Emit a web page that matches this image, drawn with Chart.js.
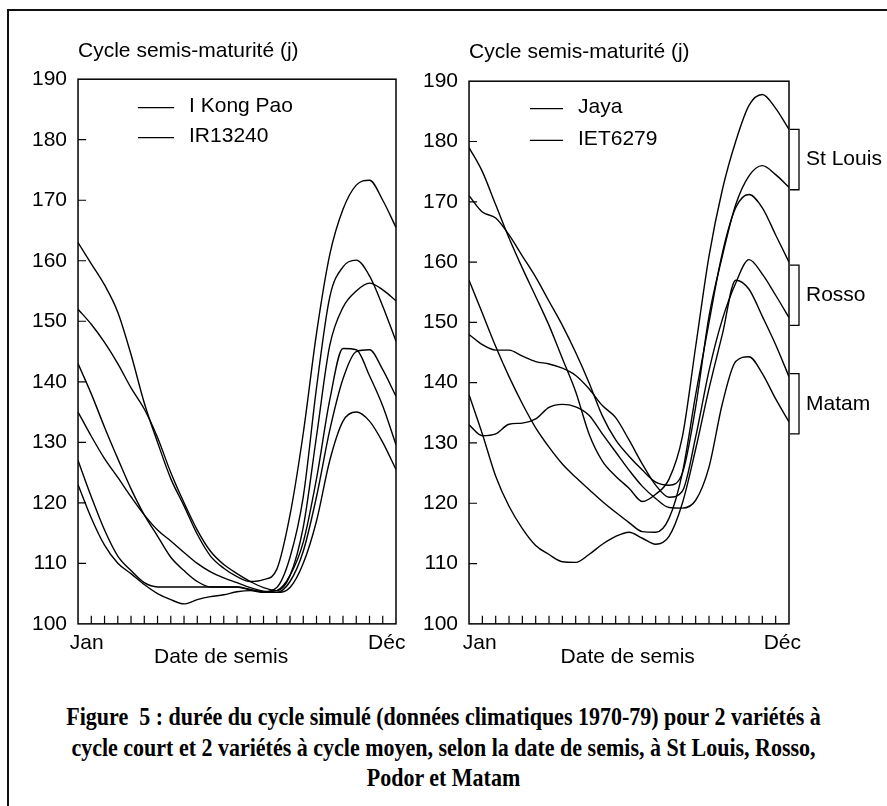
<!DOCTYPE html>
<html>
<head>
<meta charset="utf-8">
<script src="https://cdn.jsdelivr.net/npm/chart.js@4.4.0/dist/chart.umd.min.js"></script>
<style>
  html, body { margin: 0; padding: 0; background: #fff; overflow: hidden; }
  body { width: 887px; height: 806px; position: relative; }
  #frame { position: absolute; left: 7px; top: 9px; width: 900px; height: 820px;
           border-top: 2px solid #111; border-left: 2px solid #111; }
  .panel { position: absolute; top: 0; height: 680px; }
  #left { left: 0; width: 440px; }
  #right { left: 400px; width: 487px; }
  #caption { position: absolute; left: 0; width: 887px; top: 701px; text-align: center;
             font-family: 'Liberation Serif', 'Times New Roman', serif; font-weight: bold;
             font-size: 22px; line-height: 27.7px; color: #000;
             transform: scaleY(1.12); transform-origin: top center; }
</style>
</head>
<body>
<div id="frame"></div>
<div class="panel" id="left"><canvas id="chartLeft"></canvas></div>
<div class="panel" id="right"><canvas id="chartRight"></canvas></div>
<div id="caption">Figure&nbsp; 5 : durée du cycle simulé (données climatiques 1970-79) pour 2 variétés à<br>cycle court et 2 variétés à cycle moyen, selon la date de semis, à St Louis, Rosso,<br>Podor et Matam</div>
<script>
// sowing date, in half-month steps from early January (0) to late December (24)
const sowingStep = [0, 1, 2, 3, 4, 5, 6, 7, 8, 9, 10, 11, 12, 13, 14, 15, 16, 17, 18, 19, 20, 21, 22, 23, 24];

const leftVarieties = ['I Kong Pao', 'IR13240'];
const rightVarieties = ['Jaya', 'IET6279'];
const stations = ['St Louis', 'Rosso', 'Matam'];

// cycle length (days), short-cycle varieties
const ikpStLouis = [163, 159.5, 156, 151.5, 144.5, 136.5, 130, 124, 119.5, 114.8, 111.2, 109.2, 107.8, 107, 107.3, 109, 118, 131.5, 148, 161, 168.5, 172.5, 173.3, 170, 165.5];
const irStLouis  = [152, 149.5, 146.5, 143, 139, 135.5, 130.8, 125, 120, 115.5, 112, 109.8, 108.3, 107, 106, 105.5, 108, 116, 131, 146, 152.3, 155, 156.3, 155.2, 153.4];
const ikpRosso   = [143, 138, 132.5, 127.3, 122.3, 118, 114.5, 111, 108.8, 107, 106.1, 106.1, 106.1, 105.6, 105.3, 106, 111, 121, 139, 154, 159, 160.1, 157.5, 152.5, 146.7];
const irRosso    = [135, 131, 127.3, 124.2, 121, 118, 115.5, 113.7, 111.8, 110, 108.6, 107.6, 106.8, 106, 105.4, 105.2, 107, 112, 121, 132, 140.5, 145, 145.3, 142, 137.6];
const ikpMatam   = [127, 121, 115.5, 111.2, 108.8, 106.8, 106.1, 106.1, 106.1, 106.1, 106.1, 106.1, 106.1, 105.7, 105.3, 105.5, 108, 113.5, 124, 137, 145.5, 145.3, 141, 136, 129.6];
const irMatam    = [123, 117.5, 113, 110, 108.3, 106.5, 105, 104, 103.3, 104, 104.5, 104.8, 105.3, 105.5, 105.2, 105.2, 106, 110, 117, 127, 133.5, 135, 133.5, 130, 125.5];

// cycle length (days), medium-cycle varieties
const jayaStLouis = [179, 175, 169.5, 164, 159, 154.3, 149.5, 144, 138.5, 131.5, 127, 124.5, 122.5, 120.3, 121.5, 124, 131, 146, 161, 172, 180, 186, 187.8, 185.5, 182];
const ietStLouis  = [171, 168.3, 167.3, 164.5, 161, 157.5, 153.5, 149.5, 145, 140, 134.5, 130.5, 127.8, 125.5, 123.5, 123, 125, 136, 151, 161, 169.5, 174.3, 176, 174.5, 172.4];
const jayaRosso   = [157, 151.5, 146, 141, 136.5, 132.5, 129.3, 126.5, 124.3, 122.3, 120.3, 118.5, 116.8, 115.3, 115.2, 117.5, 125, 138, 150, 161.5, 169, 171.2, 169, 164.5, 160];
const ietRosso    = [148, 146.3, 145.4, 145.4, 144.4, 143.5, 143.1, 142.4, 141.2, 139, 136.2, 134.2, 130.5, 126.5, 123, 121, 122, 131, 142, 150.5, 156.5, 160.4, 158, 154.5, 150.8];
const jayaMatam   = [138, 131.5, 124.5, 119.5, 115.8, 113, 111.5, 110.3, 110.2, 111.5, 113.2, 114.5, 115.2, 114.2, 113.2, 114.5, 120, 129, 139, 148, 157, 155.5, 151, 146.3, 141];
const ietMatam    = [133, 131.2, 131.5, 133.1, 133.3, 134, 135.9, 136.4, 136, 134.6, 131.5, 128.5, 125.5, 122.8, 120.8, 119.3, 119.2, 120.5, 126, 136.5, 143.5, 144.3, 141.5, 137.3, 133.5];

// station brackets on the right panel (days)
const bracketHigh = [182, 159.5, 141.5];
const bracketLow  = [172, 149.5, 131.5];

const xTickText = ['Jan', ['', 'Date de semis'], 'Déc'];

Chart.defaults.font.family = "'Liberation Sans', Arial, sans-serif";
Chart.defaults.color = '#000';

const FONT = "21px 'Liberation Sans', Arial, sans-serif";

const frameTicks = {
    id: 'frameTicks',
    afterDatasetsDraw(chart) {
        const { ctx, chartArea: a, scales: { x, y } } = chart;
        ctx.save();
        ctx.strokeStyle = '#000';
        ctx.lineWidth = 1.5;
        ctx.strokeRect(a.left, a.top, a.right - a.left, a.bottom - a.top);
        ctx.lineWidth = 1.2;
        ctx.beginPath();
        y.ticks.forEach(t => {
            if (t.value <= y.min || t.value >= y.max) return;
            const py = y.getPixelForValue(t.value);
            ctx.moveTo(a.left, py);
            ctx.lineTo(a.left + 8, py);
        });
        for (let k = 1; k < 24; k++) {
            const px = x.getPixelForValue(k);
            ctx.moveTo(px, a.bottom);
            ctx.lineTo(px, a.bottom - 8);
        }
        ctx.stroke();
        ctx.restore();
    }
};

const insideLegend = {
    id: 'insideLegend',
    afterDraw(chart, args, opts) {
        const { ctx, chartArea: a } = chart;
        ctx.save();
        ctx.font = FONT;
        ctx.fillStyle = '#000';
        ctx.strokeStyle = '#000';
        ctx.lineWidth = 1.3;
        ctx.textBaseline = 'middle';
        opts.names.forEach((name, k) => {
            const yy = a.top + opts.top + k * opts.gap;
            ctx.beginPath();
            ctx.moveTo(a.left + opts.lineX, yy);
            ctx.lineTo(a.left + opts.lineX + opts.lineLen, yy);
            ctx.stroke();
            ctx.fillText(name, a.left + opts.textX, yy - 1);
        });
        ctx.restore();
    }
};

const stationBrackets = {
    id: 'stationBrackets',
    afterDraw(chart) {
        const { ctx, chartArea: a, scales: { y } } = chart;
        ctx.save();
        ctx.font = FONT;
        ctx.fillStyle = '#000';
        ctx.strokeStyle = '#000';
        ctx.lineWidth = 1.3;
        ctx.textBaseline = 'middle';
        stations.forEach((name, k) => {
            const y1 = y.getPixelForValue(bracketHigh[k]);
            const y2 = y.getPixelForValue(bracketLow[k]);
            ctx.beginPath();
            ctx.moveTo(a.right + 1, y1);
            ctx.lineTo(a.right + 10, y1);
            ctx.lineTo(a.right + 10, y2);
            ctx.lineTo(a.right + 1, y2);
            ctx.stroke();
            ctx.fillText(name, a.right + 17, (y1 + y2) / 2);
        });
        ctx.restore();
    }
};

const makeChart = (canvasId, series, names, cfg) => {
    const datasets = series.map((s, k) => ({
        label: names[k],
        data: sowingStep.map((x, j) => ({ x: x, y: s[j] })),
        borderColor: '#000',
        borderWidth: 1.4,
        pointRadius: 0,
        fill: false,
        cubicInterpolationMode: 'monotone'
    }));

    return new Chart(document.getElementById(canvasId), {
        type: 'line',
        data: { datasets },
        plugins: [frameTicks, insideLegend].concat(cfg.extra || []),
        options: {
            responsive: true,
            maintainAspectRatio: false,
            animation: false,
            layout: { autoPadding: false, padding: cfg.padding },
            scales: {
                x: {
                    type: 'linear',
                    min: 0,
                    max: 24,
                    grid: { display: false, drawTicks: false },
                    border: { display: false },
                    afterBuildTicks: (sc) => { sc.ticks = cfg.tickPos.map(v => ({ value: v })); },
                    ticks: {
                        autoSkip: false,
                        maxRotation: 0,
                        padding: 12,
                        font: { size: 21, lineHeight: 0.67 },
                        callback: (v, i) => xTickText[i]
                    }
                },
                y: {
                    min: 100,
                    max: 190,
                    grid: { display: false, drawTicks: false },
                    border: { display: false },
                    ticks: { stepSize: 10, padding: 11, font: { size: 21 } }
                }
            },
            plugins: {
                legend: { display: false },
                tooltip: { enabled: false },
                title: {
                    display: true,
                    text: 'Cycle semis-maturité (j)',
                    align: 'start',
                    fullSize: false,
                    font: { size: 21, weight: 'normal' },
                    padding: cfg.titlePad
                },
                insideLegend: cfg.legend
            }
        }
    });
};

makeChart('chartLeft',
    [ikpStLouis, irStLouis, ikpRosso, irRosso, ikpMatam, irMatam],
    ['I Kong Pao St Louis', 'IR13240 St Louis', 'I Kong Pao Rosso', 'IR13240 Rosso', 'I Kong Pao Matam', 'IR13240 Matam'],
    {
        padding: { left: 21, right: 44, top: 0, bottom: 4 },
        titlePad: { top: 39, bottom: 15 },
        tickPos: [0.65, 10.8, 23.3],
        legend: { names: leftVarieties, top: 28.5, gap: 30, lineX: 60, lineLen: 36, textX: 111 }
    });

makeChart('chartRight',
    [jayaStLouis, ietStLouis, jayaRosso, ietRosso, jayaMatam, ietMatam],
    ['Jaya St Louis', 'IET6279 St Louis', 'Jaya Rosso', 'IET6279 Rosso', 'Jaya Matam', 'IET6279 Matam'],
    {
        padding: { left: 12, right: 98, top: 0, bottom: 4 },
        titlePad: { top: 40, bottom: 16 },
        tickPos: [0.8, 11.9, 23.5],
        legend: { names: rightVarieties, top: 27.5, gap: 31.7, lineX: 61, lineLen: 33, textX: 109 },
        extra: [stationBrackets]
    });
</script>
</body>
</html>
